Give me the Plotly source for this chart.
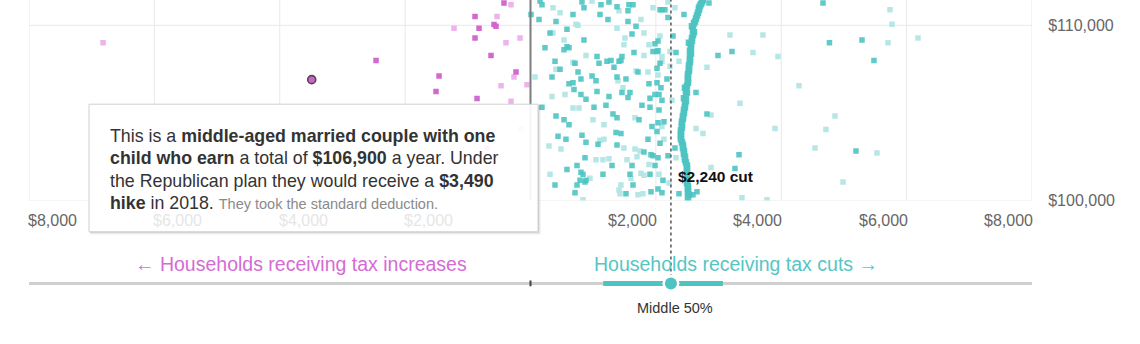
import plotly.graph_objects as go

W, H = 1140, 344
FONT = "Liberation Sans, Arial, Helvetica, sans-serif"

# ---------------- data ----------------
# x = change in 2018 tax (negative = increase, positive = cut), y = household income
x_ticks = [-8000, -6000, -4000, -2000, 2000, 4000, 6000, 8000]
x_tick_labels = ["$8,000", "$6,000", "$4,000", "$2,000", "$2,000", "$4,000", "$6,000", "$8,000"]
y_ticks = [100000, 110000]
y_tick_labels = ["$100,000", "$110,000"]

mag_dark = [(-2464, 108000), (-423, 111280), (-885, 110500), (-821, 109830), (-582, 110050),
            (-550, 109950), (-885, 109280), (-630, 108280), (-231, 107330), (-1459, 107110),
            (-1507, 106220), (-853, 105830), (-700, 103000)]
mag_light = [(-6819, 109000), (-311, 111170), (-534, 110500), (-1220, 109830), (-391, 109000),
             (-167, 109280), (-263, 107050), (-470, 106550), (-56, 106610), (-311, 105670),
             (-150, 104100), (-1300, 102200)]

teal_dark = [(152, 111389), (183, 111167), (8, 110611), (136, 110333), (407, 110222), (678, 110611),
             (821, 111333), (853, 111000), (1124, 111167), (1252, 111333), (1109, 110611), (1236, 110333),
             (1380, 111056), (1571, 111167), (1635, 111167), (1555, 110833), (1555, 110222), (1683, 109944),
             (2066, 110889), (582, 109778), (311, 109556), (853, 109167), (1619, 109500), (231, 108722),
             (534, 108611), (582, 108778), (614, 108722), (1061, 108222), (1093, 107833), (1284, 108000),
             (1220, 107944), (1412, 107944), (1459, 108222), (1443, 108000), (1651, 108444), (1954, 108500),
             (2018, 108500), (391, 107944), (710, 107833), (471, 107500), (758, 107333), (1332, 107611),
             (1715, 107333), (343, 107056), (614, 106667), (678, 106722), (805, 106944), (981, 107111),
             (1045, 106833), (1380, 107056), (1523, 106944), (1890, 106667), (694, 106333), (1061, 106222),
             (1459, 106167), (1587, 106167), (805, 106056), (885, 105778), (1252, 105944), (1555, 105889),
             (1906, 105833), (1986, 106056),
             (183, 105333), (407, 104833), (534, 104611), (614, 104333), (1013, 105333), (1204, 105444),
             (1316, 104944), (1380, 104722), (1731, 104611), (1778, 105444), (1906, 105333), (439, 103667),
             (566, 103500), (821, 103722), (885, 103333), (1077, 103222), (1364, 103889), (1443, 103833),
             (1380, 103167), (1810, 102778), (1874, 103500), (1922, 102611), (1954, 102556), (869, 102444),
             (742, 102000), (582, 101778), (1300, 102000), (1619, 102000), (805, 101611), (837, 101500),
             (790, 101167), (885, 101167), (1156, 101500), (1587, 101500), (1906, 101500), (391, 100889),
             (742, 100889), (869, 101056), (1635, 100889), (710, 100444), (1523, 100389), (1922, 100500),
             (2034, 100667),
             (2847, 111278), (2448, 110611), (2097, 110889), (2145, 110889), (2193, 110444), (2273, 109389),
             (2034, 109111), (2034, 108556), (2321, 108444), (2177, 106944), (2018, 106722), (2050, 106056),
             (2097, 105722), (2991, 108278), (3214, 108500), (4666, 111278), (4769, 109000), (5288, 109167),
             (5479, 108000),
             (2815, 104944), (3326, 102611), (3262, 101833), (2656, 100500), (2592, 100333), (2369, 100389),
             (2097, 100444), (2066, 103278), (2305, 103000), (2034, 102444), (2193, 102556), (2034, 104444),
             (2050, 105167), (5192, 102833), (2640, 106170),
             (1986, 108944), (2066, 107833), (2018, 107556), (2081, 106444), (2129, 104500), (2018, 103944),
             (1986, 102000), (2113, 101167), (1938, 104222)]

teal_curve = [(2751, 111444), (2736, 111333), (2720, 111222), (2704, 111111), (2688, 111000), (2688, 110889),
              (2672, 110722), (2656, 110556), (2640, 110389), (2624, 110222), (2608, 110111), (2576, 109944),
              (2592, 109778), (2608, 109611), (2592, 109444), (2576, 109278), (2576, 109111), (2528, 109000),
              (2560, 108889), (2560, 108722), (2544, 108556), (2560, 108389), (2544, 108222), (2544, 108056),
              (2544, 107889), (2528, 107722), (2528, 107556), (2528, 107389), (2512, 107222), (2512, 107056),
              (2512, 106889), (2512, 106722), (2496, 106556), (2464, 106444), (2480, 106333), (2496, 106167),
              (2480, 106000), (2448, 105833), (2480, 105667), (2464, 105500), (2464, 105333), (2448, 105167),
              (2448, 105000), (2432, 104833), (2432, 104667), (2416, 104500), (2416, 104333), (2416, 104167),
              (2400, 104000), (2400, 103833), (2400, 103667), (2400, 103500), (2416, 103333), (2432, 103167),
              (2432, 103000), (2448, 102833), (2448, 102667), (2464, 102500), (2464, 102333), (2480, 102167),
              (2496, 102000), (2496, 101833), (2496, 101667), (2496, 101500), (2496, 101333), (2496, 101167),
              (2496, 101000), (2512, 100833), (2512, 100667), (2512, 100500), (2528, 100333), (2512, 100167)]

teal_light = [(359, 111000), (471, 110722), (981, 111389), (1412, 110833), (1762, 110333), (1954, 111000),
              (726, 110056), (758, 110000), (359, 109556), (534, 109167), (1380, 109833), (1507, 109278),
              (1810, 109556), (1491, 108889), (1890, 108889), (885, 108278), (1810, 108278), (678, 107889),
              (407, 107500), (1683, 107389), (1874, 107333), (72, 107056), (1396, 106833), (1475, 106444),
              (343, 105944), (550, 106056),
              (678, 105278), (774, 105278), (997, 104611), (1172, 104333), (1667, 104722), (295, 103111),
              (486, 102944), (1109, 103444), (1172, 103500), (1491, 103000), (1667, 102944), (1747, 102833),
              (1699, 102500), (1045, 102333), (1156, 102333), (1252, 102389), (1539, 102333), (1890, 102056),
              (311, 101500), (949, 101278), (1603, 101278), (1762, 101556), (1810, 101444), (1443, 100889),
              (1412, 100611), (837, 100056), (1428, 100389), (1715, 100333), (1794, 100389),
              (2305, 111000), (2193, 111333), (2066, 109389), (2225, 108500), (2097, 108222), (2097, 107944),
              (2369, 107944), (2225, 107667), (2034, 107167), (2257, 105722), (2815, 107611), (3182, 109444),
              (3549, 108444), (3708, 109444), (3948, 108222), (3341, 105556), (5735, 110889), (5767, 110056),
              (5703, 109000), (6182, 109278), (4283, 106556),
              (2879, 104889), (2640, 104111), (2752, 103833), (3900, 104111), (2879, 101889), (2050, 101500),
              (2129, 103500), (2321, 102444), (2209, 101000), (2097, 104222), (3373, 100167), (3772, 100056),
              (4857, 104833), (4713, 104056), (4538, 103000), (5527, 102722), (4985, 101056)]

highlight = (-3490, 106900)
median_cut = 2240
middle50 = (1160, 3070)

# ---------------- colours ----------------
MAG = "#d061cd"
MAG_L = "#ecb4eb"
TEAL = "#4ec4c2"
TEAL_L = "#aee4e3"
MAG_TXT = "#d56bd4"
TEAL_TXT = "#55c6c4"

# ---------------- geometry helpers (pixel -> paper) ----------------
PX_L, PX_R = 29, 1032
PY_TOP, PY_BOT = 0, 206
def px(x):
    return x / W
def py(y):
    return 1 - y / H

Y_MAX = 100000 + (PY_BOT - PY_TOP) / 18.0 * 1000

# tooltip box (pixels)
bx0, bx1, by0, by1 = 89, 538, 107, 238

fig = go.Figure()

def sq(points, color, opacity=1.0, size=5.5):
    xs = [p[0] for p in points]
    ys = [p[1] for p in points]
    fig.add_trace(go.Scatter(x=xs, y=ys, mode="markers",
                             marker=dict(symbol="square", size=size, color=color, opacity=opacity,
                                         line=dict(width=0)),
                             hoverinfo="skip", showlegend=False))

sq(mag_light, MAG_L)
sq(mag_dark, MAG, 0.95)
sq(teal_light, TEAL_L, 0.9)
sq(teal_dark, TEAL, 0.9)
sq(teal_curve, TEAL, 0.95, 6.5)

fig.add_trace(go.Scatter(x=[highlight[0]], y=[highlight[1]], mode="markers",
                         marker=dict(symbol="circle", size=8, color=MAG,
                                     line=dict(width=1.6, color="#4a4a4a")),
                         hoverinfo="skip", showlegend=False))

shapes = []
grid_col = "#e9e9e9"
for xv in x_ticks:
    shapes.append(dict(type="line", xref="x", yref="paper", x0=xv, x1=xv, y0=py(PY_BOT), y1=1,
                       line=dict(color=grid_col, width=1), layer="below"))
for yv in y_ticks:
    shapes.append(dict(type="line", xref="paper", yref="y", x0=px(PX_L), x1=px(PX_R), y0=yv, y1=yv,
                       line=dict(color=grid_col, width=1), layer="below"))

# zero line
shapes.append(dict(type="line", xref="x", yref="paper", x0=0, x1=0, y0=py(PY_BOT), y1=1,
                   line=dict(color="#7c7c7c", width=2), layer="above"))
# median dotted line
shapes.append(dict(type="line", xref="x", yref="paper", x0=median_cut, x1=median_cut, y0=py(291), y1=1,
                   line=dict(color="#555555", width=1.5, dash="dot"), layer="above"))

# tooltip box with soft shadow (bottom / right only)
for off, a in [(3, 0.04), (2, 0.06), (1, 0.09)]:
    shapes.append(dict(type="rect", xref="paper", yref="paper",
                       x0=px(bx0 + 1), x1=px(bx1 + off), y0=py(by1 + off), y1=py(by1),
                       fillcolor=f"rgba(0,0,0,{a})", line=dict(width=0), layer="above"))
    shapes.append(dict(type="rect", xref="paper", yref="paper",
                       x0=px(bx1), x1=px(bx1 + off), y0=py(by1), y1=py(by0 + 1),
                       fillcolor=f"rgba(0,0,0,{a})", line=dict(width=0), layer="above"))
shapes.append(dict(type="rect", xref="paper", yref="paper", x0=px(bx0), x1=px(bx1), y0=py(by1), y1=py(by0),
                   fillcolor="rgba(255,255,255,0.92)", line=dict(color="#d0d0d0", width=1), layer="above"))

# bottom distribution strip
strip_y = py(291)
shapes.append(dict(type="line", xref="x", yref="paper", x0=-8000, x1=8000, y0=strip_y, y1=strip_y,
                   line=dict(color="#cfcfcf", width=3), layer="above"))
shapes.append(dict(type="line", xref="x", yref="paper", x0=0, x1=0, y0=py(288), y1=py(294),
                   line=dict(color="#444444", width=2), layer="above"))
shapes.append(dict(type="line", xref="x", yref="paper", x0=middle50[0], x1=middle50[1], y0=strip_y, y1=strip_y,
                   line=dict(color=TEAL, width=5), layer="above"))
shapes.append(dict(type="circle", xref="x", yref="paper", xsizemode="pixel", ysizemode="pixel",
                   xanchor=median_cut, yanchor=strip_y, x0=-8.5, x1=8.5, y0=-8.5, y1=8.5,
                   fillcolor="white", line=dict(width=0), layer="above"))
shapes.append(dict(type="circle", xref="x", yref="paper", xsizemode="pixel", ysizemode="pixel",
                   xanchor=median_cut, yanchor=strip_y, x0=-6, x1=6, y0=-6, y1=6,
                   fillcolor=TEAL, line=dict(width=0), layer="above"))

ann = []
def txt(text, x, y, size, color="#333", xanchor="left", xref="paper", yanchor="middle", xshift=0):
    ann.append(dict(text=text, x=x, y=y, xref=xref, yref="paper", xanchor=xanchor, yanchor=yanchor,
                    showarrow=False, align="left", xshift=xshift,
                    font=dict(family=FONT, size=size, color=color)))

# x tick labels: negative side labels start at their grid line, positive side labels end at it.
# Labels lying under the tooltip are drawn faint, as the semi-opaque box covers them.
def x_to_px(v):
    return PX_L + (v + 8000) / 16000 * (PX_R - PX_L)

for v, lab in zip(x_ticks, x_tick_labels):
    under_box = bx0 < x_to_px(v) < bx1
    col = "#e6e6e6" if under_box else "#666666"
    if v < 0:
        txt(lab, v, py(226), 16, col, xanchor="left", xref="x", xshift=-3)
    else:
        txt(lab, v, py(226), 16, col, xanchor="right", xref="x", xshift=3)

# tooltip text
tx = px(108)
lines = [
    "This is a <b>middle-aged married couple with one</b>",
    "<b>child who earn</b> a total of <b>$106,900</b> a year. Under",
    "the Republican plan they would receive a <b>$3,490</b>",
    "<b>hike</b> in 2018. <span style='font-size:14.5px;color:#8a8a8a'>They took the standard deduction.</span>",
]
for i, ln in enumerate(lines):
    txt(ln, tx, py(140 + i * 22.7), 17.8, "#333333")

txt("<b>$2,240 cut</b>", median_cut, py(181), 15.5, "#111111", xref="x", xshift=5)
txt("\u2190 Households receiving tax increases", px(301), py(271), 19.5, MAG_TXT, xanchor="center")
txt("Households receiving tax cuts \u2192", px(592), py(271), 19.5, TEAL_TXT)
txt("Middle 50%", median_cut, py(316), 14.5, "#333333", xanchor="center", xref="x", xshift=4)

fig.update_layout(
    width=W, height=H, margin=dict(l=0, r=0, t=0, b=0),
    paper_bgcolor="white", plot_bgcolor="white",
    font=dict(family=FONT),
    showlegend=False,
    xaxis=dict(range=[-8000, 8000], domain=[px(PX_L), px(PX_R)], showgrid=False, zeroline=False,
               showline=False, showticklabels=False, ticks="", fixedrange=True),
    yaxis=dict(range=[100000, Y_MAX], domain=[py(PY_BOT), 1], side="right", anchor="x",
               tickvals=y_ticks, ticktext=y_tick_labels, showgrid=False, zeroline=False, showline=False,
               ticks="outside", ticklen=12, tickcolor="rgba(0,0,0,0)",
               tickfont=dict(family=FONT, size=16, color="#666666"), fixedrange=True),
    shapes=shapes,
    annotations=ann,
)

fig.write_html("out.html", config={"displayModeBar": False, "staticPlot": True})
